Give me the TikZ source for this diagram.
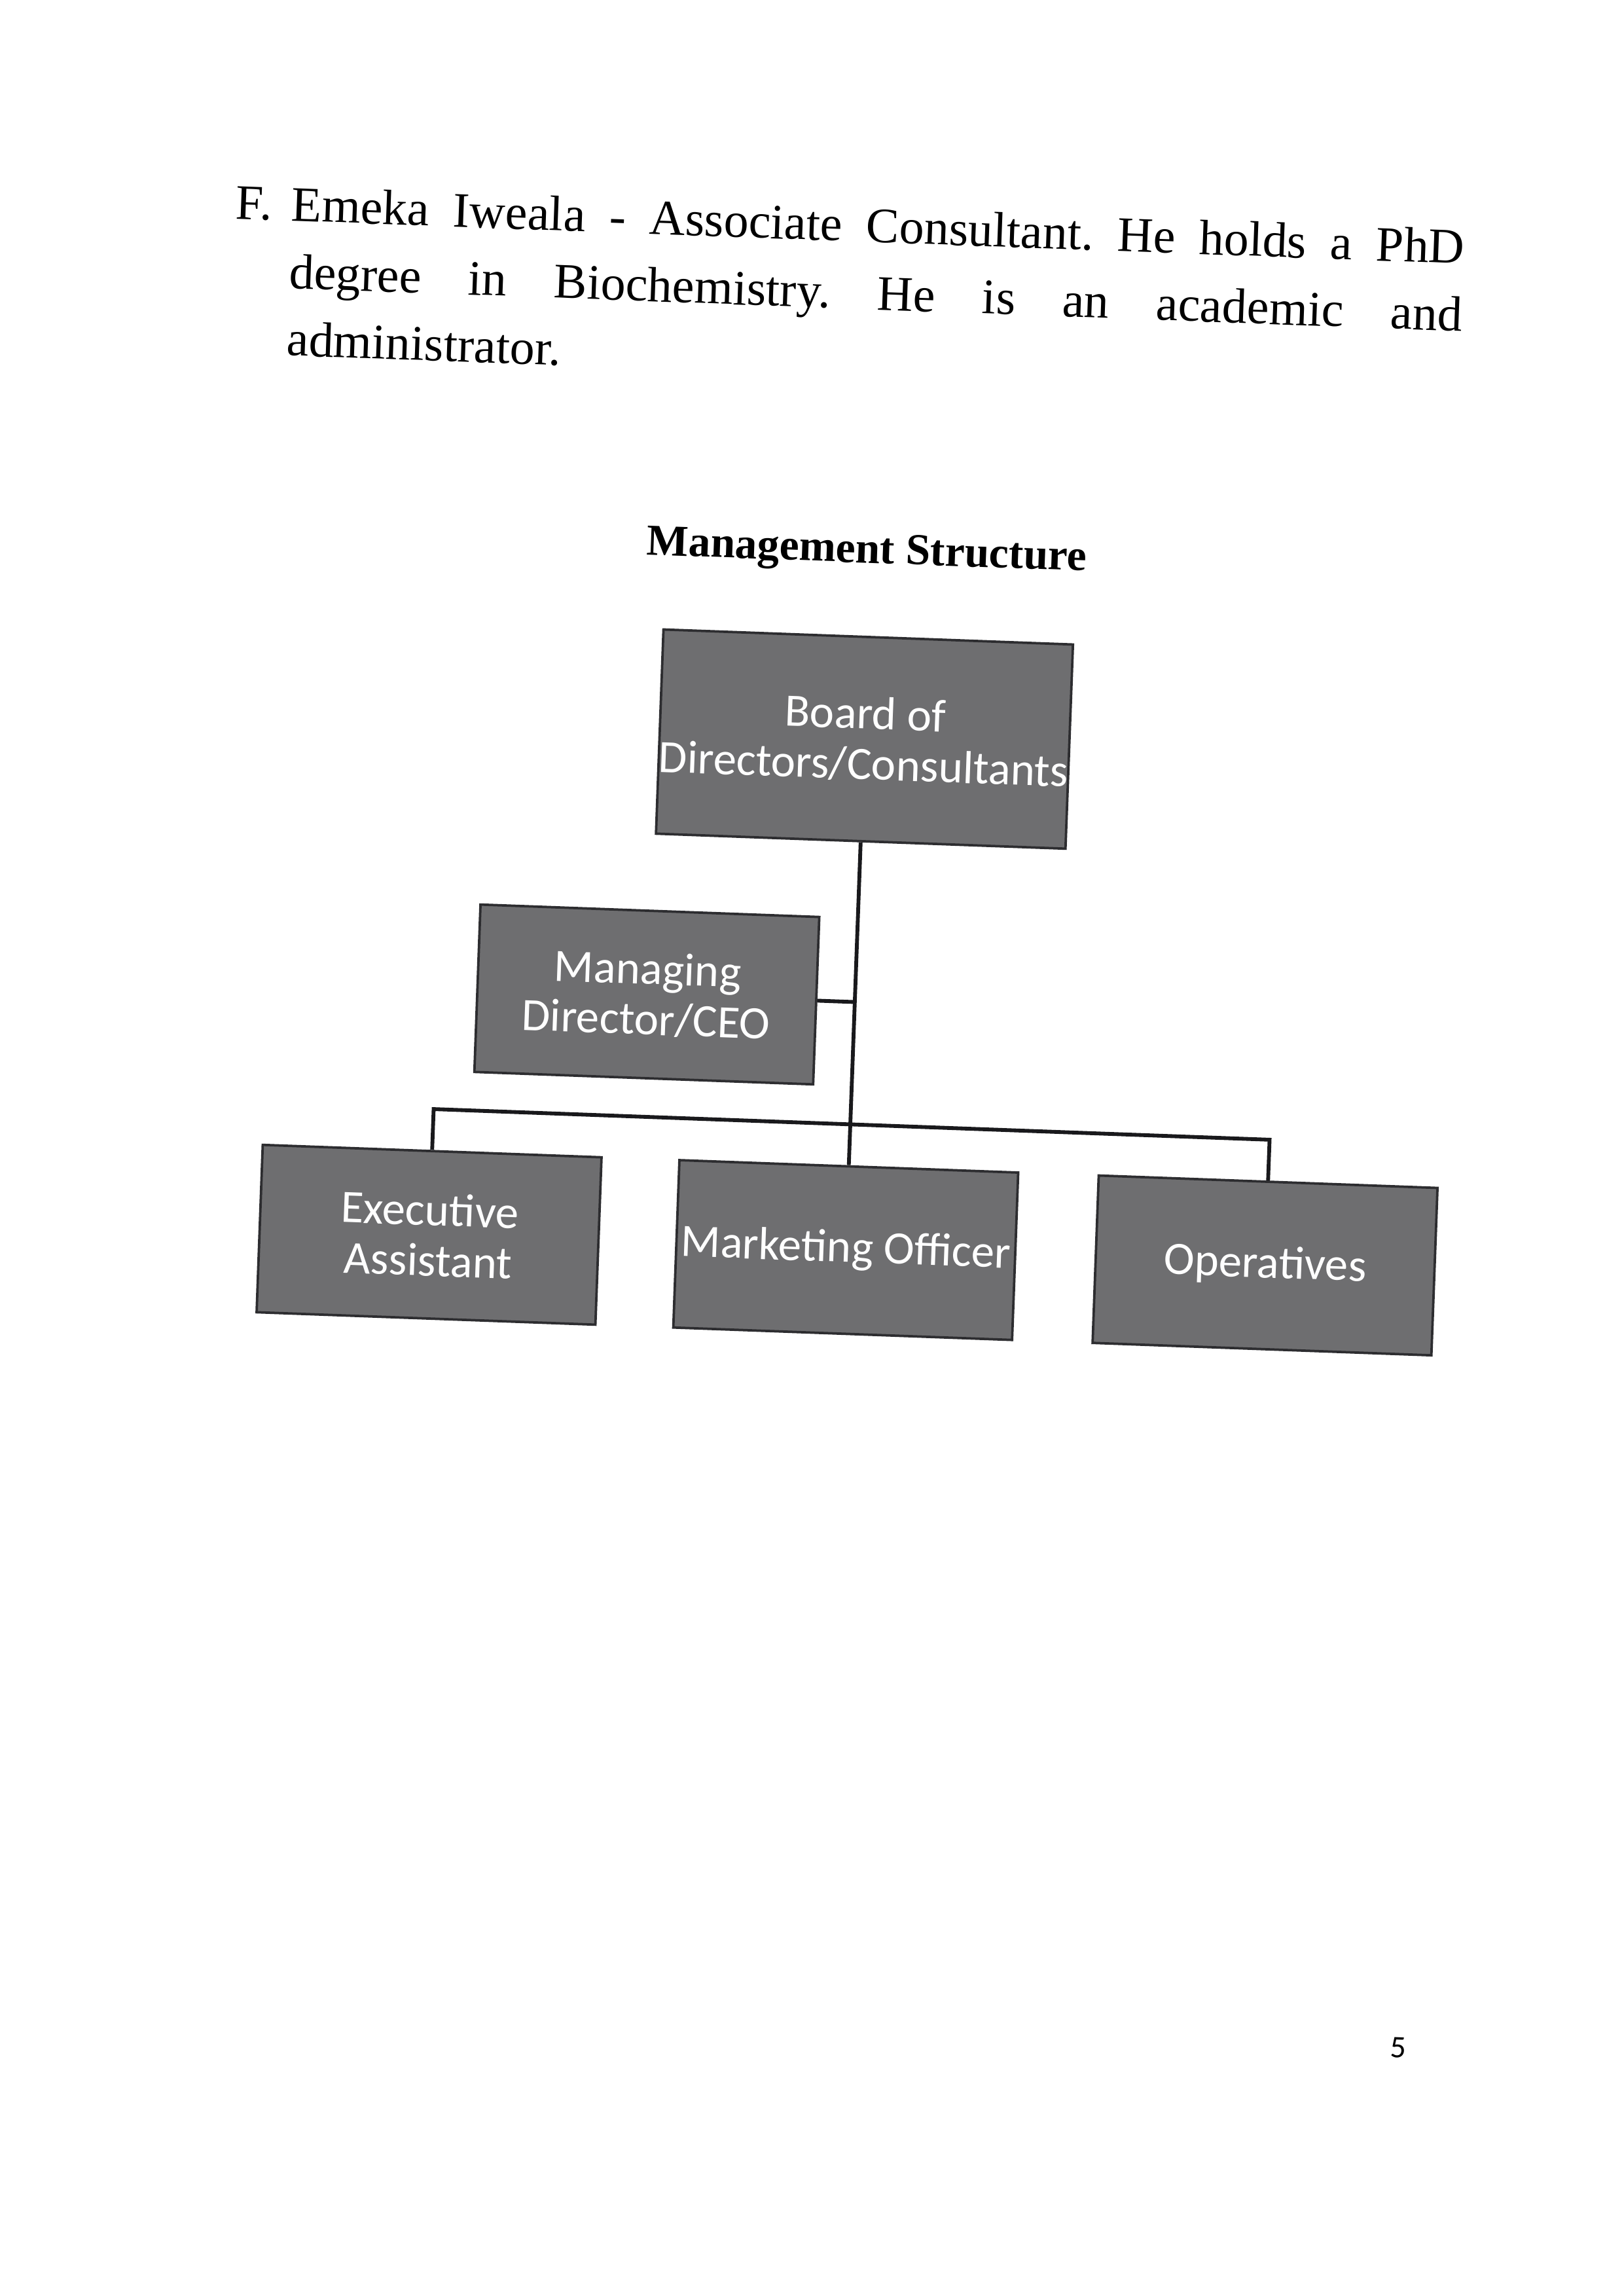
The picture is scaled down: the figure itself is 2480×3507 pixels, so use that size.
\documentclass[tikz,border=0pt]{standalone}
\usepackage{fontspec}
\setmainfont{Liberation Serif}
\newfontfamily\calib{Carlito}
\definecolor{boxfill}{RGB}{110,110,112}
\definecolor{boxline}{RGB}{45,45,48}
\definecolor{conn}{RGB}{25,25,28}
\begin{document}
\begin{tikzpicture}[x=0.24pt,y=-0.24pt,
  orgbox/.style={draw=boxline, line width=0.9pt, fill=boxfill, text=white,
    font=\calib\fontsize{17}{18.5}\selectfont, align=center, inner sep=0pt,
    minimum width=124.3pt, minimum height=61.4pt},
  bodytext/.style={inner sep=0pt, font=\frenchspacing\fontsize{18.2}{24.7}\selectfont},
  link/.style={draw=conn, line width=1.4pt}]
\useasboundingbox (0,0) rectangle (2480,3507);
\fill[white] (0,0) rectangle (2480,3507);
\begin{scope}[rotate around={-2.1:(1240,1200)}, transform shape]
\node[bodytext, anchor=base west] (lbl) at (328,367) {F.};
\node[bodytext, anchor=base west, text width=430.3pt, align=justify] (para) at (413,367)
  {\sloppy Emeka Iweala - Associate Consultant. He holds a PhD\linebreak degree in Biochemistry. He is an academic and\linebreak administrator.};
\node[font=\bfseries\fontsize{16.2}{19}\selectfont] (title) at (1311,842) {Management Structure};
\node[orgbox, minimum width=150.2pt, minimum height=74.9pt] (board) at (1318,1126) {Board of\\Directors/Consultants};
\node[orgbox] (md) at (1000,1528) {Managing\\Director/CEO};
\node[orgbox] (exec) at (681,1907) {Executive\\Assistant};
\node[orgbox] (mkt) at (1318,1907) {Marketing Officer};
\node[orgbox] (ops) at (1959,1907) {Operatives};
\coordinate (jm) at (1318,1528);
\coordinate (jl) at (681,1715);
\coordinate (jr) at (1959,1715);
\draw[link] (board.south) -- (mkt.north);
\draw[link] (md.east) -- (jm);
\draw[link] (exec.north) -- (jl) -- (jr) -- (ops.north);
\node[font=\calib\fontsize{11.5}{13}\selectfont] (pnum) at (2206,3094) {5};
\end{scope}
\end{tikzpicture}
\end{document}
